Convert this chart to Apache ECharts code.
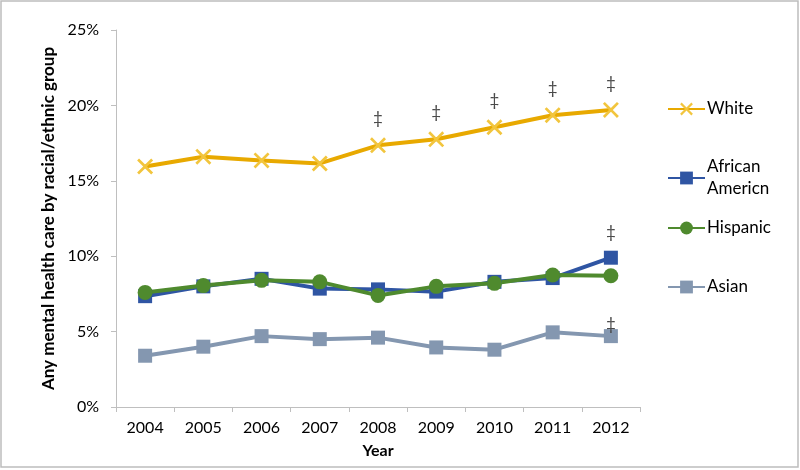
<!DOCTYPE html>
<html>
<head>
<meta charset="utf-8">
<script src="https://cdn.jsdelivr.net/npm/echarts@6/dist/echarts.min.js"></script>
<style>html,body{margin:0;padding:0;background:#fff}#c{width:800px;height:470px}</style>
</head>
<body>
<div id="c"></div>
<script>
var years = ['2004','2005','2006','2007','2008','2009','2010','2011','2012'];
var yTicks = [0, 5, 10, 15, 20, 25];
var white = [15.95, 16.6, 16.35, 16.15, 17.35, 17.75, 18.55, 19.35, 19.7];
var african = [7.35, 8.0, 8.5, 7.85, 7.8, 7.65, 8.3, 8.55, 9.9];
var hispanic = [7.6, 8.05, 8.4, 8.3, 7.4, 8.0, 8.2, 8.75, 8.7];
var asian = [3.4, 4.0, 4.7, 4.5, 4.6, 3.95, 3.8, 4.95, 4.7];
// significance markers (‡) per point
var whiteSig = [0, 0, 0, 0, 1, 1, 1, 1, 1];
var africanSig = [0, 0, 0, 0, 0, 0, 0, 0, 1];
var hispanicSig = [0, 0, 0, 0, 0, 0, 0, 0, 0];
var asianSig = [0, 0, 0, 0, 0, 0, 0, 0, 1];

var FONT = 'Lato, "Open Sans", sans-serif';
var xPath = 'path://M0,1.2 L1.2,0 L5,3.8 L8.8,0 L10,1.2 L6.2,5 L10,8.8 L8.8,10 L5,6.2 L1.2,10 L0,8.8 L3.8,5 Z';

function mk(vals, sig, dist) {
  return vals.map(function (v, i) {
    return {
      value: v,
      label: {
        show: !!sig[i], formatter: '\u2021', position: 'top', distance: dist,
        color: '#4a4a4a', fontSize: 17, fontFamily: FONT
      }
    };
  });
}

var names = ['White', 'African Americn', 'Hispanic', 'Asian'];
var colors = ['#E8A900', '#2F55A3', '#4F8A2E', '#8497B0'];

var chart = echarts.init(document.getElementById('c'));
function leg(name, top) {
  return {
    data: [name], orient: 'vertical', left: 662, top: top,
    itemWidth: 37, itemHeight: 16, itemGap: 0,
    selectedMode: false,
    formatter: function (n) { return n === 'African Americn' ? 'African\nAmericn' : n; },
    textStyle: { fontFamily: FONT, fontSize: 17, color: '#000', lineHeight: 22, padding: [0, 0, 0, -3] }
  };
}
chart.setOption({
  animation: false,
  backgroundColor: '#fff',
  color: colors,
  graphic: [{
    type: 'rect', shape: { x: 1, y: 1, width: 797, height: 466 },
    style: { fill: 'none', stroke: '#BDBDBD', lineWidth: 1.5 }, silent: true
  }],
  legend: [leg(names[0], 93), leg(names[1], 151), leg(names[2], 212), leg(names[3], 271)],
  grid: { left: 116, right: 160, top: 30, bottom: 63 },
  xAxis: {
    type: 'category', data: years, boundaryGap: true,
    name: 'Year', nameLocation: 'middle', nameGap: 36,
    nameTextStyle: { fontFamily: FONT, fontSize: 16, fontWeight: 'bold', color: '#000' },
    axisLine: { lineStyle: { color: '#BFBFBF', width: 1 } },
    axisTick: { show: true, alignWithLabel: false, length: 5, lineStyle: { color: '#BFBFBF' } },
    axisLabel: { fontFamily: FONT, fontSize: 16, color: '#000', margin: 13 }
  },
  yAxis: {
    type: 'value', min: yTicks[0], max: yTicks[yTicks.length - 1], interval: 5,
    name: 'Any mental health care by racial/ethnic group', nameLocation: 'middle', nameGap: 50,
    nameTextStyle: { fontFamily: FONT, fontSize: 17, fontWeight: 'bold', color: '#000' },
    axisLine: { show: true, lineStyle: { color: '#BFBFBF', width: 1 } },
    axisTick: { show: true, length: 5, lineStyle: { color: '#BFBFBF' } },
    splitLine: { show: false },
    axisLabel: { fontFamily: FONT, fontSize: 16, color: '#000', margin: 17, formatter: '{value}%' }
  },
  series: [
    { name: names[0], type: 'line', data: mk(white, whiteSig, 10), symbol: xPath, symbolSize: 16,
      lineStyle: { width: 4, color: colors[0] }, itemStyle: { color: '#F2C53D' } },
    { name: names[1], type: 'line', data: mk(african, africanSig, 10), symbol: 'rect', symbolSize: 14,
      lineStyle: { width: 4, color: colors[1] }, itemStyle: { color: colors[1] } },
    { name: names[2], type: 'line', data: mk(hispanic, hispanicSig, 10), symbol: 'circle', symbolSize: 15,
      lineStyle: { width: 4, color: colors[2] }, itemStyle: { color: colors[2] } },
    { name: names[3], type: 'line', data: mk(asian, asianSig, -4), symbol: 'rect', symbolSize: 14,
      lineStyle: { width: 4, color: colors[3] }, itemStyle: { color: colors[3] } }
  ]
});
</script>
</body>
</html>
